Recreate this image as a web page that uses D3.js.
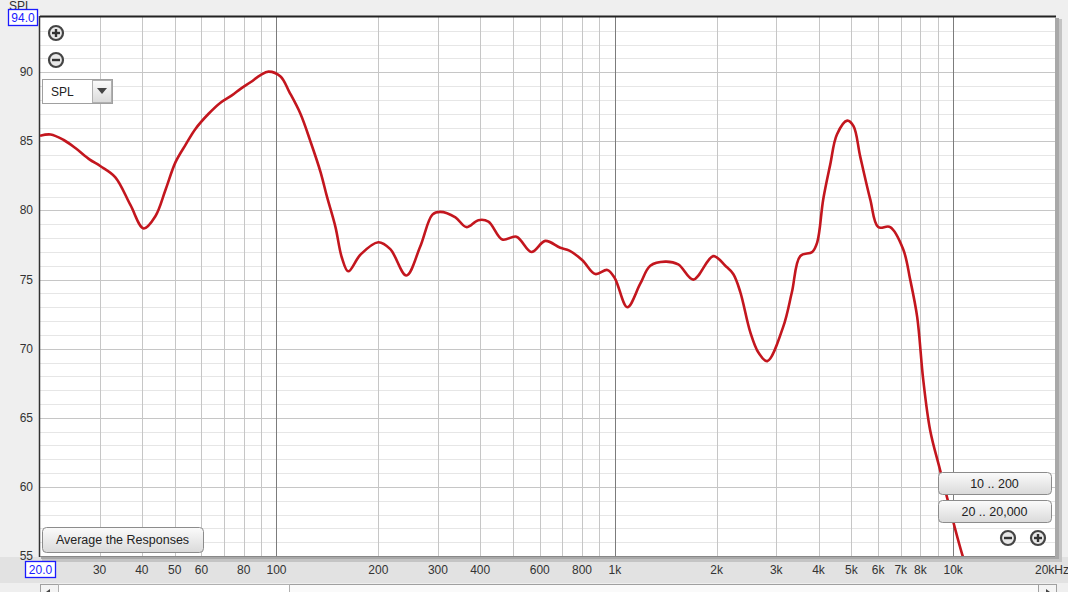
<!DOCTYPE html>
<html><head><meta charset="utf-8">
<script src="https://cdn.jsdelivr.net/npm/d3@7"></script>
<style>
html,body{margin:0;padding:0;background:#efefef;}
svg{display:block;font-family:"Liberation Sans",Arial,sans-serif;}
</style></head>
<body>
<svg id="c" width="1068" height="592"></svg>
<script>
// ---- data ----
const freqs = [20, 21.5, 23.5, 25.5, 28, 30.2, 33.4, 37, 40.5, 43.9, 47, 50.3, 54, 57.6, 63, 68.3, 74, 78.3, 84, 89.7, 94.7, 102.8, 109, 117.7, 126, 134.9, 141, 149.4, 156, 163, 177, 200, 217, 242, 266, 289, 305, 338, 364, 395, 423, 465, 512, 567, 623, 690, 734, 802, 876, 950, 1000, 1089, 1189, 1273, 1410, 1540, 1706, 1954, 2121, 2239, 2349, 2514, 2660, 2822, 3147, 3338, 3532, 3832, 3965, 4130, 4330, 4534, 4863, 5076, 5313, 5688, 6004, 6515, 7117, 7464, 7828, 8154, 8551, 9154, 10700, 11600];
const spl = [85.4, 85.5, 85.1, 84.5, 83.7, 83.2, 82.4, 80.4, 78.7, 79.6, 81.5, 83.5, 84.8, 85.9, 87.0, 87.8, 88.35, 88.8, 89.3, 89.8, 90.05, 89.7, 88.6, 87.0, 85.0, 82.8, 81.0, 78.8, 76.6, 75.6, 76.8, 77.7, 77.2, 75.3, 77.4, 79.7, 79.9, 79.5, 78.8, 79.3, 79.2, 77.9, 78.1, 77.0, 77.8, 77.3, 77.1, 76.4, 75.4, 75.7, 75.1, 73.0, 74.7, 76.0, 76.3, 76.1, 75.0, 76.7, 76.0, 75.4, 74.1, 71.2, 69.7, 69.1, 71.6, 74.1, 76.7, 77.0, 77.7, 80.8, 83.3, 85.5, 86.5, 86.1, 83.9, 80.8, 78.8, 78.8, 77.2, 75.0, 72.3, 67.8, 64.1, 61.2, 54.9, 52.5];
const yTicks = [55, 60, 65, 70, 75, 80, 85, 90];
const xTickVals = [30, 40, 50, 60, 80, 100, 200, 300, 400, 600, 800, 1000, 2000, 3000, 4000, 5000, 6000, 7000, 8000, 10000, 20000];
const xTickLabels = ["30", "40", "50", "60", "80", "100", "200", "300", "400", "600", "800", "1k", "2k", "3k", "4k", "5k", "6k", "7k", "8k", "10k", "20kHz"];
const yMax = 94.0, yMin = 55, xMin = 20, xMax = 20000;

// ---- layout ----
const L = 40, R = 1055, T = 17, B = 556;
const svg = d3.select("#c");
const x = d3.scaleLog().domain([xMin, xMax]).range([L, R]);
const y = d3.scaleLinear().domain([yMin, yMax]).range([B, T]);

const defs = svg.append("defs");
const g1 = defs.append("linearGradient").attr("id","btn").attr("x1",0).attr("y1",0).attr("x2",0).attr("y2",1);
g1.append("stop").attr("offset","0%").attr("stop-color","#fbfbfb");
g1.append("stop").attr("offset","100%").attr("stop-color","#dadada");
defs.append("clipPath").attr("id","clip").append("rect").attr("x",L).attr("y",T).attr("width",R-L).attr("height",B-T);

// bottom axis band
svg.append("rect").attr("x",0).attr("y",B+1).attr("width",1068).attr("height",26).attr("fill","#e2e2e2");

// shadow of plot
svg.append("rect").attr("x",L+2).attr("y",T+2).attr("width",R-L+5).attr("height",B-T+4).attr("fill","#c4c4c4");
svg.append("rect").attr("x",L+1).attr("y",T+1).attr("width",R-L+3).attr("height",B-T+2).attr("fill","#a8a8a8");
// plot area
svg.append("rect").attr("x",L).attr("y",T).attr("width",R-L).attr("height",B-T).attr("fill","#ffffff");

// horizontal grid every 1 dB
const hg = svg.append("g");
d3.range(56, 94).forEach(v => {
  hg.append("line").attr("x1",L).attr("x2",R).attr("y1",Math.round(y(v))+0.5).attr("y2",Math.round(y(v))+0.5)
    .attr("stroke", v % 5 === 0 ? "#c6c6c6" : "#e6e6e6").attr("stroke-width",1);
});
// vertical grid
const vg = svg.append("g");
const vlines = [];
[10,100,1000,10000].forEach(dec => { for (let k=1;k<10;k++) { const f = dec*k; if (f > xMin && f < xMax) vlines.push(f); } });
vlines.forEach(f => {
  const major = [100,1000,10000].includes(f);
  vg.append("line").attr("y1",T).attr("y2",B).attr("x1",Math.round(x(f))+0.5).attr("x2",Math.round(x(f))+0.5)
    .attr("stroke", major ? "#7c7c7c" : "#c6c6c6").attr("stroke-width",1);
});

// frame edges
svg.append("line").attr("x1",L).attr("x2",R+1).attr("y1",T-0.5).attr("y2",T-0.5).attr("stroke","#222").attr("stroke-width",2);
svg.append("line").attr("x1",L-0.5).attr("x2",L-0.5).attr("y1",T-1).attr("y2",B+1).attr("stroke","#333").attr("stroke-width",1.5);
svg.append("line").attr("x1",L).attr("x2",R).attr("y1",B+0.5).attr("y2",B+0.5).attr("stroke","#888").attr("stroke-width",1);

// curve
const pts = freqs.map((f,i) => [f, spl[i]]);
const line = d3.line().x(d => x(d[0])).y(d => y(d[1])).curve(d3.curveCatmullRom.alpha(0.5));
svg.append("path").attr("clip-path","url(#clip)").attr("d", line(pts))
  .attr("fill","none").attr("stroke","#c3161e").attr("stroke-width",2.6).attr("stroke-linejoin","round");

// y labels
const yl = svg.append("g").attr("font-size",12).attr("fill","#333").attr("text-anchor","end");
yTicks.forEach(v => {
  yl.append("text").attr("x",33).attr("y",y(v)+4).text(v);
});
// SPL axis title
svg.append("text").attr("x",9).attr("y",10).attr("font-size",12).attr("fill","#333").text("SPL");
// top value box
svg.append("rect").attr("x",8.5).attr("y",9.5).attr("width",29).attr("height",16).attr("fill","#fff").attr("stroke","#1a1aff").attr("stroke-width",1.3);
svg.append("text").attr("x",23).attr("y",22).attr("text-anchor","middle").attr("font-size",12).attr("fill","#1a1aff").text(yMax.toFixed(1));

// x labels
const xl = svg.append("g").attr("font-size",12).attr("fill","#333");
xTickVals.forEach((v,i) => {
  const last = xTickLabels[i] === "20kHz";
  xl.append("text").attr("x", last ? 1035 : x(v)).attr("y",574)
    .attr("text-anchor", last ? "start" : "middle").text(xTickLabels[i]);
});
svg.append("rect").attr("x",25.5).attr("y",561.5).attr("width",30).attr("height",16).attr("fill","#fff").attr("stroke","#1a1aff").attr("stroke-width",1.3);
svg.append("text").attr("x",40.5).attr("y",574).attr("text-anchor","middle").attr("font-size",12).attr("fill","#1a1aff").text(xMin.toFixed(1));

// scrollbar
svg.append("rect").attr("x",40.5).attr("y",584.5).attr("width",1016).attr("height",10).attr("fill","#fafafa").attr("stroke","#a0a0a0");
svg.append("rect").attr("x",40.5).attr("y",584.5).attr("width",18).attr("height",10).attr("fill","#f4f4f4").attr("stroke","#a0a0a0");
svg.append("rect").attr("x",58.5).attr("y",584.5).attr("width",231).attr("height",10).attr("fill","#ffffff").attr("stroke","#b0b0b0");
svg.append("rect").attr("x",1038.5).attr("y",584.5).attr("width",18).attr("height",10).attr("fill","#f4f4f4").attr("stroke","#a0a0a0");
svg.append("path").attr("d","M46,592 L50,589 L50,595 Z").attr("fill","#444");
svg.append("path").attr("d","M1050,592 L1046,589 L1046,595 Z").attr("fill","#444");

// zoom icons
function zoomIcon(cx, cy, plus) {
  const g = svg.append("g");
  g.append("circle").attr("cx",cx).attr("cy",cy).attr("r",7).attr("fill","#e8e8e8").attr("stroke","#444").attr("stroke-width",2.2);
  g.append("line").attr("x1",cx-4).attr("x2",cx+4).attr("y1",cy).attr("y2",cy).attr("stroke","#333").attr("stroke-width",2.4);
  if (plus) g.append("line").attr("x1",cx).attr("x2",cx).attr("y1",cy-4).attr("y2",cy+4).attr("stroke","#333").attr("stroke-width",2.4);
}
zoomIcon(56,33,true);
zoomIcon(56,60,false);
zoomIcon(1008,538,false);
zoomIcon(1038,538,true);

// SPL dropdown
svg.append("rect").attr("x",42.5).attr("y",79.5).attr("width",70).attr("height",24).attr("fill","#fff").attr("stroke","#a0a0a0");
svg.append("rect").attr("x",92.5).attr("y",80.5).attr("width",19).attr("height",22).attr("fill","url(#btn)").attr("stroke","#b0b0b0");
svg.append("path").attr("d","M97,88 L107,88 L102,94 Z").attr("fill","#444");
svg.append("text").attr("x",51).attr("y",96).attr("font-size",12).attr("fill","#222").text("SPL");

// buttons
function button(bx, by, w, h, label) {
  svg.append("rect").attr("x",bx+0.5).attr("y",by+0.5).attr("width",w).attr("height",h).attr("rx",4)
    .attr("fill","url(#btn)").attr("stroke","#8c8c8c");
  svg.append("text").attr("x",bx+w/2).attr("y",by+h/2+4.5).attr("text-anchor","middle").attr("font-size",12.5).attr("fill","#222").text(label);
}
button(42,527,161,25,"Average the Responses");
button(938,472,113,22,"10 .. 200");
button(938,500,113,22,"20 .. 20,000");
</script>
</body></html>
